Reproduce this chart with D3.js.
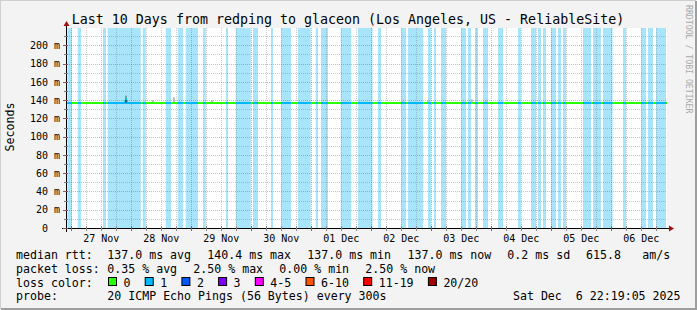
<!DOCTYPE html>
<html><head><meta charset="utf-8">
<script src="https://cdn.jsdelivr.net/npm/d3@7"></script>
<style>
body{margin:0;background:#f3f3f3}
svg{display:block}
text{font-family:"DejaVu Sans Mono",monospace;white-space:pre}
</style>
</head><body>
<svg id="c" width="697" height="310"></svg>
<script>
// ---------------- data ----------------
const titleText = "Last 10 Days from redping to glaceon (Los Angeles, US - ReliableSite)";
const endTime = new Date(Date.UTC(2025, 11, 6, 22, 19, 5));
const spanHours = 240;
const yMaxValue = 219;
const yTickValues = [0, 20, 40, 60, 80, 100, 120, 140, 160, 180, 200];
const yTickLabels = ["0  ", "20 m", "40 m", "60 m", "80 m", "100 m", "120 m", "140 m", "160 m", "180 m", "200 m"];
// loss periods (hours since window start), 1 of 20 pings lost
const lossStartHours = [0.2, 4.3, 14.4, 16.3, 30.3, 39.5, 44.3, 47.5, 54.4, 63.6, 67.5, 74.4, 81.6, 85.6, 92.4, 99.5, 101.6, 109.5, 116.4, 124.4, 133.6, 136.4, 144.4, 146.8, 149.6, 157.6, 160.4, 163.2, 166.4, 172.4, 180.4, 185.6, 188.4, 190.4, 193.6, 196.4, 198.4, 206.4, 210.4, 214.4, 222.4, 229.6, 232.4, 235.6];
const lossEndHours   = [2.0, 5.6, 15.6, 29.5, 31.5, 41.6, 46.4, 52.4, 55.5, 64.4, 73.5, 76.4, 82.4, 89.6, 97.5, 100.4, 104.4, 113.6, 122.2, 125.6, 135.6, 142.4, 145.6, 147.6, 151.6, 159.6, 161.6, 164.4, 168.4, 174.4, 181.6, 187.6, 189.6, 191.6, 195.6, 197.6, 199.6, 209.6, 213.6, 218.2, 223.6, 231.6, 234.4, 239.6];
// median rtt (ms)
const medianHours  = [0, 23.2, 23.6, 24.0, 240];
const medianValues = [137.0, 137.0, 140.4, 137.0, 137.0];
// smoke (ping spread) samples
const smokeHours = [23.6, 34.4, 42.8, 58.0, 134.0, 144.4, 161.9, 167.6];
const smokeLow   = [137.0, 137.0, 137.0, 137.0, 137.0, 137.0, 137.0, 137.0];
const smokeHigh  = [145.0, 140.0, 143.0, 140.0, 140.0, 140.0, 141.0, 140.0];
// legend
const rttLabel = "median rtt:";
const rttStats = ["137.0 ms avg", "140.4 ms max", "137.0 ms min", "137.0 ms now", "0.2 ms sd", "615.8", "am/s"];
const lossLabel = "packet loss:";
const lossStats = ["0.35 % avg", "2.50 % max", "0.00 % min", "2.50 % now"];
const lossColorLabel = "loss color:";
const lossLegendLabels = ["0", "1", "2", "3", "4-5", "6-10", "11-19", "20/20"];
const lossLegendColors = ["#26ff00", "#00b8ff", "#0059ff", "#7e00ff", "#ff00ff", "#ff5500", "#ff0000", "#a00000"];
const probeLabel = "probe:";
const probeText = "20 ICMP Echo Pings (56 Bytes) every 300s";
const stampText = "Sat Dec  6 22:19:05 2025";
const yAxisTitle = "Seconds";
const watermark = "RRDTOOL / TOBI OETIKER";

// ---------------- layout ----------------
const W = 697, H = 310;
const L = 67, R = 667, T = 28, B = 228;
const startTime = new Date(endTime.getTime() - spanHours * 3600e3);
const hourToDate = h => new Date(startTime.getTime() + h * 3600e3);

const svg = d3.select("#c");
const x = d3.scaleUtc().domain([startTime, endTime]).range([L, R]);
const y = d3.scaleLinear().domain([0, yMaxValue]).range([B, T]);

// background + frame
svg.append("rect").attr("width", W).attr("height", H).attr("fill", "#f3f3f3");
svg.append("path").attr("d", `M0,${H-1}V0H${W-1}`).attr("stroke", "#cfcfcf").attr("stroke-width", 2).attr("fill", "none");
svg.append("path").attr("d", `M1,${H-1}H${W-1}V1`).attr("stroke", "#9e9e9e").attr("stroke-width", 2).attr("fill", "none");

// canvas
svg.append("rect").attr("x", L).attr("y", T).attr("width", R - L).attr("height", B - T).attr("fill", "#fff");

// loss background bars
const loss = lossStartHours.map((s, i) => ({s, e: lossEndHours[i]}));
svg.append("g").selectAll("rect").data(loss).join("rect")
  .attr("x", d => x(hourToDate(d.s)))
  .attr("width", d => x(hourToDate(d.e)) - x(hourToDate(d.s)))
  .attr("y", T).attr("height", B - T)
  .attr("fill", "#a8e4fa");

// grid
const grid = svg.append("g");
const minorY = d3.range(10, yMaxValue, 10);
grid.selectAll(".hy").data(minorY).join("line")
  .attr("x1", L).attr("x2", R)
  .attr("y1", d => Math.round(y(d)) + 0.5).attr("y2", d => Math.round(y(d)) + 0.5)
  .attr("stroke", d => d % 20 === 0 ? "rgba(255,0,0,0.35)" : "rgba(120,120,120,0.4)")
  .attr("stroke-dasharray", "1,1");
const hours6 = d3.utcHour.every(6).range(startTime, endTime);
grid.selectAll(".vx").data(hours6).join("line")
  .attr("y1", T).attr("y2", B)
  .attr("x1", d => Math.round(x(d)) + 0.5).attr("x2", d => Math.round(x(d)) + 0.5)
  .attr("stroke", d => d.getUTCHours() === 0 ? "rgba(255,0,0,0.35)" : "rgba(120,120,120,0.4)")
  .attr("stroke-dasharray", "1,1");

// smoke
svg.append("g").selectAll("rect").data(smokeHours).join("rect")
  .attr("x", d => x(hourToDate(d)) - 1).attr("width", 2)
  .attr("y", (d, i) => y(smokeHigh[i]))
  .attr("height", (d, i) => y(smokeLow[i]) - y(smokeHigh[i]))
  .attr("fill", (d, i) => i === 0 ? "#999" : "#bbb");

// median line, green for 0 loss, blue where 1 loss
const med = medianHours.map((h, i) => ({t: hourToDate(h), v: medianValues[i]}));
const line = d3.line().x(d => x(d.t)).y(d => y(d.v));
const defs = svg.append("defs");
const cp = defs.append("clipPath").attr("id", "lossclip");
cp.selectAll("rect").data(loss).join("rect")
  .attr("x", d => x(hourToDate(d.s))).attr("width", d => x(hourToDate(d.e)) - x(hourToDate(d.s)))
  .attr("y", T).attr("height", B - T);
svg.append("path").datum(med).attr("d", line).attr("fill", "none").attr("stroke", lossLegendColors[0]).attr("stroke-width", 2);
svg.append("path").datum(med).attr("d", line).attr("fill", "none").attr("stroke", lossLegendColors[1]).attr("stroke-width", 2).attr("clip-path", "url(#lossclip)");
// dark tick at max
svg.append("line")
  .attr("x1", x(hourToDate(medianHours[2])) ).attr("x2", x(hourToDate(medianHours[2])))
  .attr("y1", y(medianValues[2]) ).attr("y2", y(medianValues[0]))
  .attr("stroke", "#222").attr("stroke-width", 1);

// axes
const ax = svg.append("g");
ax.append("line").attr("x1", 62).attr("x2", 670).attr("y1", B + 0.5).attr("y2", B + 0.5).attr("stroke", "#000");
ax.append("line").attr("x1", L - 0.5).attr("x2", L - 0.5).attr("y1", B + 4).attr("y2", 25).attr("stroke", "#000");
ax.append("path").attr("d", `M${L-3.5},26L${L+2.5},26L${L-0.5},21Z`).attr("fill", "#a01010");
ax.append("path").attr("d", `M669,${B-2.5}L669,${B+3.5}L674,${B+0.5}Z`).attr("fill", "#a01010");
// y ticks
ax.selectAll(".yt").data(minorY.concat([0])).join("line")
  .attr("x1", d => d % 20 === 0 ? L - 4 : L - 3).attr("x2", L + 1)
  .attr("y1", d => Math.round(y(d)) + 0.5).attr("y2", d => Math.round(y(d)) + 0.5)
  .attr("stroke", d => d % 20 === 0 ? "#a05050" : "#777");
// x ticks
ax.selectAll(".xt").data(hours6).join("line")
  .attr("x1", d => Math.round(x(d)) + 0.5).attr("x2", d => Math.round(x(d)) + 0.5)
  .attr("y1", B - 2).attr("y2", B + 3)
  .attr("stroke", d => d.getUTCHours() === 0 ? "#d04040" : "#888");

// y labels
svg.append("g").selectAll("text").data(yTickValues).join("text")
  .attr("x", 60).attr("y", d => y(d) + 3.7)
  .attr("text-anchor", "end").attr("font-size", 10).attr("fill", "#000")
  .text((d, i) => yTickLabels[i]);

// x labels at noon
const days = d3.utcDay.range(d3.utcDay.floor(startTime), endTime)
  .map(d => d3.utcHour.offset(d, 12)).filter(d => d >= startTime && d <= endTime);
const fmt = d3.utcFormat("%d %b");
svg.append("g").selectAll("text").data(days).join("text")
  .attr("x", d => x(d)).attr("y", 242)
  .attr("text-anchor", "middle").attr("font-size", 10).attr("fill", "#000")
  .text(d => fmt(d));

// title
svg.append("text").attr("x", 348).attr("y", 24).attr("text-anchor", "middle")
  .attr("font-size", 13.3).attr("fill", "#000").text(titleText);
// y axis title
svg.append("text").attr("transform", "translate(14,127) rotate(-90)").attr("text-anchor", "middle")
  .attr("font-size", 11.6).attr("fill", "#000").text(yAxisTitle);
// watermark
svg.append("text").attr("transform", "translate(685.5,5) rotate(90)")
  .attr("font-size", 8.2).attr("fill", "#aaa").text(watermark);

// legend
const fs = 11.6;
const lg = svg.append("g").attr("font-size", fs).attr("fill", "#000");
const addText = (tx, ty, s) => lg.append("text").attr("x", tx).attr("y", ty).text(s);
const r1 = 258.5, r2 = 272.5, r3 = 286.5, r4 = 300.3;
addText(16, r1, rttLabel);
[107.3, 207.3, 307.3, 407.5, 507.3, 586, 642.3].forEach((px, i) => addText(px, r1, rttStats[i]));
addText(16, r2, lossLabel);
[107.3, 193.3, 279.3, 365.3].forEach((px, i) => addText(px, r2, lossStats[i]));
addText(16, r3, lossColorLabel);
let bx = 109;
lossLegendLabels.forEach((lab, i) => {
  lg.append("rect").attr("x", bx - 0.5).attr("y", 277.5).attr("width", 8).attr("height", 8)
    .attr("fill", lossLegendColors[i]).attr("stroke", "#000").attr("stroke-width", 1);
  addText(bx + 14.5, r3, lab);
  bx = bx + 14.5 + lab.length * 7.0 + 15.2;
});
addText(16, r4, probeLabel);
addText(107.3, r4, probeText);
lg.append("text").attr("x", 680.5).attr("y", r4).attr("text-anchor", "end").text(stampText);
</script>
</body></html>
